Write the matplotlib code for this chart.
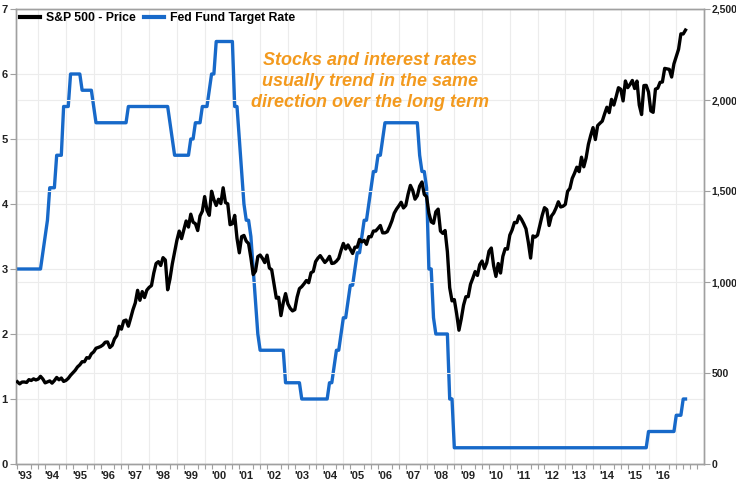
import numpy as np
import matplotlib
matplotlib.use("Agg")
import matplotlib.pyplot as plt
from matplotlib.ticker import FuncFormatter, FixedLocator

# ---------------- data (month-end values) ----------------
start_year = 1993
start_month = 3  # first value = March 1993

sp500 = {
    1993: [451.67, 440.19, 450.19, 450.53, 448.13, 463.56, 458.93, 467.83, 461.79, 466.45],
    1994: [481.61, 467.14, 445.77, 450.91, 456.50, 444.27, 458.26, 475.49, 462.69, 472.35, 453.69, 459.27],
    1995: [470.42, 487.39, 500.71, 514.71, 533.40, 544.75, 562.06, 561.88, 584.41, 581.50, 605.37, 615.93],
    1996: [636.02, 640.43, 645.50, 654.17, 669.12, 670.63, 639.95, 651.99, 687.33, 705.27, 757.02, 740.74],
    1997: [786.16, 790.82, 757.12, 801.34, 848.28, 885.14, 954.29, 899.47, 947.28, 914.62, 955.40, 970.43],
    1998: [980.28, 1049.34, 1101.75, 1111.75, 1090.82, 1133.84, 1120.67, 957.28, 1017.01, 1098.67, 1163.63, 1229.23],
    1999: [1279.64, 1238.33, 1286.37, 1335.18, 1301.84, 1372.71, 1328.72, 1320.41, 1282.71, 1362.93, 1388.91, 1469.25],
    2000: [1394.46, 1366.42, 1498.58, 1452.43, 1420.60, 1454.60, 1430.83, 1517.68, 1436.51, 1429.40, 1314.95, 1320.28],
    2001: [1366.01, 1239.94, 1160.33, 1249.46, 1255.82, 1224.42, 1211.23, 1133.58, 1040.94, 1059.78, 1139.45, 1148.08],
    2002: [1130.20, 1106.73, 1147.39, 1076.92, 1067.14, 989.82, 911.62, 916.07, 815.28, 885.76, 936.31, 879.82],
    2003: [855.70, 841.15, 848.18, 916.92, 963.59, 974.50, 990.31, 1008.01, 995.97, 1050.71, 1058.20, 1111.92],
    2004: [1131.13, 1144.94, 1126.21, 1107.30, 1120.68, 1140.84, 1101.72, 1104.24, 1114.58, 1130.20, 1173.82, 1211.92],
    2005: [1181.27, 1203.60, 1180.59, 1156.85, 1191.50, 1191.33, 1234.18, 1220.33, 1228.81, 1207.01, 1249.48, 1248.29],
    2006: [1280.08, 1280.66, 1294.83, 1310.61, 1270.09, 1270.20, 1276.66, 1303.82, 1335.85, 1377.94, 1400.63, 1418.30],
    2007: [1438.24, 1406.82, 1420.86, 1482.37, 1530.62, 1503.35, 1455.27, 1473.99, 1526.75, 1549.38, 1481.14, 1468.36],
    2008: [1378.55, 1330.63, 1322.70, 1385.59, 1400.38, 1280.00, 1267.38, 1282.83, 1166.36, 968.75, 896.24, 903.25],
    2009: [825.88, 735.09, 797.87, 872.81, 919.14, 919.32, 987.48, 1020.62, 1057.08, 1036.19, 1095.63, 1115.10],
    2010: [1073.87, 1104.49, 1169.43, 1186.69, 1089.41, 1030.71, 1101.60, 1049.33, 1141.20, 1183.26, 1180.55, 1257.64],
    2011: [1286.12, 1327.22, 1325.83, 1363.61, 1345.20, 1320.64, 1292.28, 1218.89, 1131.42, 1253.30, 1246.96, 1257.60],
    2012: [1312.41, 1365.68, 1408.47, 1397.91, 1310.33, 1362.16, 1379.32, 1406.58, 1440.67, 1412.16, 1416.18, 1426.19],
    2013: [1498.11, 1514.68, 1569.19, 1597.57, 1630.74, 1606.28, 1685.73, 1632.97, 1681.55, 1756.54, 1805.81, 1848.36],
    2014: [1782.59, 1859.45, 1872.34, 1883.95, 1923.57, 1960.23, 1930.67, 2003.37, 1972.29, 2018.05, 2067.56, 2058.90],
    2015: [1994.99, 2104.50, 2067.89, 2085.51, 2107.39, 2063.11, 2103.84, 1972.18, 1920.03, 2079.36, 2080.41, 2043.94],
    2016: [1940.24, 1932.23, 2059.74, 2065.30, 2096.95, 2098.86, 2173.60, 2170.95, 2168.27, 2126.15, 2198.81, 2238.83],
    2017: [2278.87, 2363.64, 2362.72, 2384.20],
}

fed_rate = {
    1993: [3.0, 3.0, 3.0, 3.0, 3.0, 3.0, 3.0, 3.0, 3.0, 3.0],
    1994: [3.0, 3.25, 3.5, 3.75, 4.25, 4.25, 4.25, 4.75, 4.75, 4.75, 5.5, 5.5],
    1995: [5.5, 6.0, 6.0, 6.0, 6.0, 6.0, 5.75, 5.75, 5.75, 5.75, 5.75, 5.5],
    1996: [5.25, 5.25, 5.25, 5.25, 5.25, 5.25, 5.25, 5.25, 5.25, 5.25, 5.25, 5.25],
    1997: [5.25, 5.25, 5.5, 5.5, 5.5, 5.5, 5.5, 5.5, 5.5, 5.5, 5.5, 5.5],
    1998: [5.5, 5.5, 5.5, 5.5, 5.5, 5.5, 5.5, 5.5, 5.25, 5.0, 4.75, 4.75],
    1999: [4.75, 4.75, 4.75, 4.75, 4.75, 5.0, 5.0, 5.25, 5.25, 5.25, 5.5, 5.5],
    2000: [5.5, 5.75, 6.0, 6.0, 6.5, 6.5, 6.5, 6.5, 6.5, 6.5, 6.5, 6.5],
    2001: [5.5, 5.5, 5.0, 4.5, 4.0, 3.75, 3.75, 3.5, 3.0, 2.5, 2.0, 1.75],
    2002: [1.75, 1.75, 1.75, 1.75, 1.75, 1.75, 1.75, 1.75, 1.75, 1.75, 1.25, 1.25],
    2003: [1.25, 1.25, 1.25, 1.25, 1.25, 1.0, 1.0, 1.0, 1.0, 1.0, 1.0, 1.0],
    2004: [1.0, 1.0, 1.0, 1.0, 1.0, 1.25, 1.25, 1.5, 1.75, 1.75, 2.0, 2.25],
    2005: [2.25, 2.5, 2.75, 2.75, 3.0, 3.25, 3.25, 3.5, 3.75, 3.75, 4.0, 4.25],
    2006: [4.5, 4.5, 4.75, 4.75, 5.0, 5.25, 5.25, 5.25, 5.25, 5.25, 5.25, 5.25],
    2007: [5.25, 5.25, 5.25, 5.25, 5.25, 5.25, 5.25, 5.25, 4.75, 4.5, 4.5, 4.25],
    2008: [3.0, 3.0, 2.25, 2.0, 2.0, 2.0, 2.0, 2.0, 2.0, 1.0, 1.0, 0.25],
    2009: [0.25] * 12,
    2010: [0.25] * 12,
    2011: [0.25] * 12,
    2012: [0.25] * 12,
    2013: [0.25] * 12,
    2014: [0.25] * 12,
    2015: [0.25, 0.25, 0.25, 0.25, 0.25, 0.25, 0.25, 0.25, 0.25, 0.25, 0.25, 0.5],
    2016: [0.5, 0.5, 0.5, 0.5, 0.5, 0.5, 0.5, 0.5, 0.5, 0.5, 0.5, 0.75],
    2017: [0.75, 0.75, 1.0, 1.0],
}

year_labels = ["'93", "'94", "'95", "'96", "'97", "'98", "'99", "'00", "'01", "'02",
               "'03", "'04", "'05", "'06", "'07", "'08", "'09", "'10", "'11", "'12",
               "'13", "'14", "'15", "'16"]

annotation = "Stocks and interest rates\nusually trend in the same\ndirection over the long term"

# ---------------- build series ----------------
def series(d):
    xs, ys = [], []
    for yr in sorted(d):
        vals = d[yr]
        m0 = start_month if yr == start_year else 1
        for i, v in enumerate(vals):
            xs.append(yr + (m0 + i) / 12.0)
            ys.append(v)
    return np.array(xs), np.array(ys)

x_sp, y_sp = series(sp500)
x_fed, y_fed = series(fed_rate)

# ---------------- figure ----------------
plt.rcParams['font.family'] = ['Liberation Sans', 'DejaVu Sans']
W, H = 736, 482
fig = plt.figure(figsize=(W / 100, H / 100), dpi=100)
ax = fig.add_axes([16 / W, (H - 464) / H, (704 - 16) / W, (464 - 9) / H])
ax2 = ax.twinx()

grid_c = '#ececec'
spine_c = '#a0a0a0'

ax.set_xlim(1993.2, 2018.0)
ax.set_ylim(0, 7)
ax2.set_ylim(0, 2500)

# grid lines
for yr in range(1994, 2018):
    ax.axvline(yr, color=grid_c, lw=0.8, zorder=0)
ax.set_yticks(range(0, 8))
ax.yaxis.grid(True, color=grid_c, lw=0.8)
ax.set_axisbelow(True)

# lines
l2, = ax.plot(x_fed, y_fed, color='#1769c9', lw=2.4, solid_joinstyle='round', zorder=3)
l1, = ax2.plot(x_sp, y_sp, color='black', lw=2.4, solid_joinstyle='round', zorder=3)
ax2.set_zorder(ax.get_zorder() + 1)
ax2.patch.set_visible(False)

# x ticks: labels at mid-year, minor quarterly ticks
mid_years = [1993.5 + i for i in range(len(year_labels))]
ax.xaxis.set_major_locator(FixedLocator(mid_years))
ax.set_xticklabels(year_labels)
quarters = [y + q / 4 for y in range(1993, 2018) for q in range(4) if 1993.2 <= y + q / 4 <= 2018.0]
ax.xaxis.set_minor_locator(FixedLocator(quarters))
ax.tick_params(axis='x', which='major', length=0, pad=5, labelsize=8, colors='#222222')
ax.tick_params(axis='x', which='minor', length=3.5, color=spine_c, width=0.8)
for t in ax.get_xticklabels():
    t.set_fontweight('bold')

ax.tick_params(axis='y', length=4, color=spine_c, width=0.8, pad=2, labelsize=8, labelcolor='#222222')
for t in ax.get_yticklabels():
    t.set_fontweight('bold')

ax2.set_yticks(range(0, 2501, 500))
ax2.yaxis.set_major_formatter(FuncFormatter(lambda v, p: f"{int(v):,}"))
ax2.tick_params(axis='y', length=4, color=spine_c, width=0.8, pad=1.5, labelsize=7.5, labelcolor='#222222')
for t in ax2.get_yticklabels():
    t.set_fontweight('bold')
ax2.yaxis.grid(True, color=grid_c, lw=0.8)
ax2.set_axisbelow(True)

for a in (ax, ax2):
    for s in a.spines.values():
        s.set_color(spine_c)
        s.set_linewidth(1.0)

# legend
leg = ax2.legend([l1, l2], ['S&P 500 - Price', 'Fed Fund Target Rate'], loc='upper left',
                 bbox_to_anchor=(-0.006, 1.012), ncol=2, frameon=False, handlelength=1.6,
                 handletextpad=0.5, columnspacing=0.7, borderaxespad=0.3,
                 prop={'weight': 'bold', 'size': 8.8})
for h in leg.legend_handles:
    h.set_linewidth(3)

# annotation
ax2.text(0.514, 0.905, annotation, transform=ax2.transAxes, ha='center', va='top',
         color='#f39a1e', fontsize=13, fontweight='bold', fontstyle='italic',
         linespacing=1.3, zorder=5)

fig.savefig('out.png', dpi=100)
